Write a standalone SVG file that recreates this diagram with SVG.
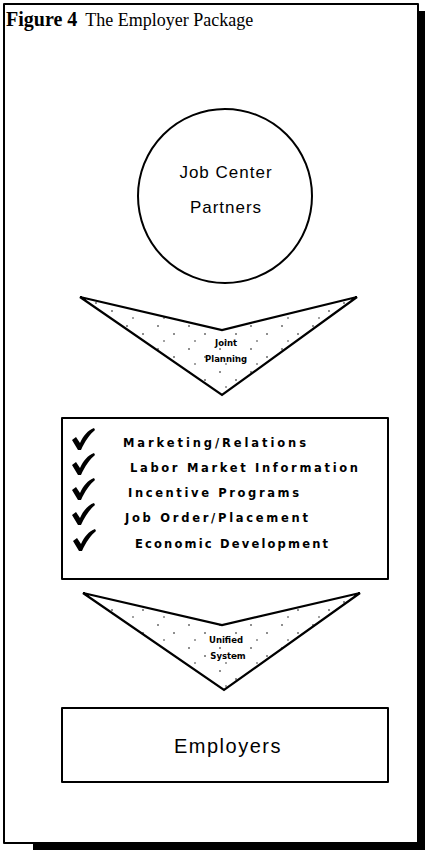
<svg xmlns="http://www.w3.org/2000/svg" width="440" height="850" viewBox="0 0 440 850">
<style>
.ln{fill:none;stroke:#000;stroke-width:2;stroke-linejoin:round}
.chev{fill:url(#dots);stroke:#000;stroke-width:2.2;stroke-linejoin:miter}
.plot{font-family:"Liberation Sans",Arial,sans-serif;fill:#000}
.big{font-size:17px;letter-spacing:1px}
.small{font-family:"DejaVu Sans",sans-serif;font-size:8.5px;font-weight:bold;text-anchor:middle}
.item{font-family:"DejaVu Sans",sans-serif;font-size:11.5px;font-weight:bold}
</style>
<defs>
<pattern id="dots" width="31" height="23" patternUnits="userSpaceOnUse">
<rect width="31" height="23" fill="#fff"/>
<circle cx="3" cy="4" r="0.8" fill="#000"/>
<circle cx="19" cy="12" r="0.8" fill="#000"/>
<circle cx="9" cy="19" r="0.7" fill="#000"/>
</pattern>
<path id="check" d="M0,12 L4,9 L8,15 C11,8 16,2 22,0 L23,2 C18,6 13,13 9,22 L6,22 Z" fill="#000"/>
</defs>
<rect width="440" height="850" fill="#fff"/>
<g id="frame">
<rect x="4" y="4" width="414" height="839" class="ln" stroke-width="1.6"/>
<rect x="418" y="11" width="7" height="839" fill="#000"/>
<rect x="33" y="843" width="392" height="7" fill="#000"/>
</g>
<g id="title">
<text x="6" y="26" font-family="'Liberation Serif',serif" fill="#000"><tspan font-size="20" font-weight="bold">Figure 4</tspan><tspan font-size="18" dx="8">The Employer Package</tspan></text>
</g>
<g id="connectors">
<g id="joint-planning">
<polygon points="80,297 222,330 357,297 222,395" class="chev"/>
<text x="226" y="346" class="plot small">Joint</text>
<text x="226" y="362" class="plot small">Planning</text>
</g>
<g id="unified-system">
<polygon points="83,593 222,625 360,593 224,690" class="chev"/>
<text x="226" y="643" class="plot small">Unified</text>
<text x="228" y="659" class="plot small">System</text>
</g>
</g>
<g id="job-center-partners">
<circle cx="225" cy="196" r="87" class="ln"/>
<text x="226" y="178" text-anchor="middle" class="plot big">Job Center</text>
<text x="226" y="213" text-anchor="middle" class="plot big">Partners</text>
</g>
<g id="services">
<rect x="62" y="418" width="326" height="161" class="ln"/>
<use href="#check" x="72" y="428"/>
<use href="#check" x="72" y="453"/>
<use href="#check" x="72" y="478"/>
<use href="#check" x="72" y="503"/>
<use href="#check" x="73" y="529"/>
<text x="123" y="447" class="plot item" textLength="183">Marketing/Relations</text>
<text x="130" y="472" class="plot item" textLength="228">Labor Market Information</text>
<text x="128" y="497" class="plot item" textLength="171">Incentive Programs</text>
<text x="125" y="522" class="plot item" textLength="183">Job Order/Placement</text>
<text x="135" y="548" class="plot item" textLength="193">Economic Development</text>
</g>
<g id="employers">
<rect x="62" y="708" width="326" height="74" class="ln"/>
<text x="228" y="753" text-anchor="middle" class="plot" font-size="20" letter-spacing="1.5">Employers</text>
</g>
</svg>
